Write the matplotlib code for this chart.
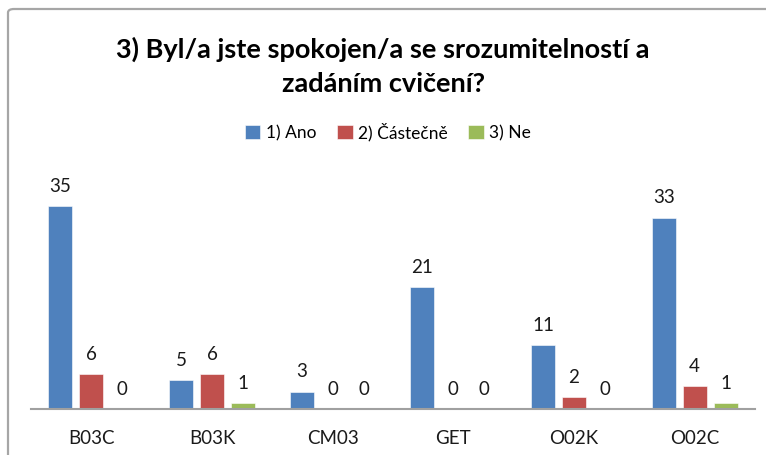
import numpy as np
import matplotlib
matplotlib.use("Agg")
import matplotlib.pyplot as plt
from matplotlib.patches import FancyBboxPatch

categories = ["B03C", "B03K", "CM03", "GET", "O02K", "O02C"]
series_names = ["1) Ano", "2) Částečně", "3) Ne"]
ano = [35, 5, 3, 21, 11, 33]
castecne = [6, 6, 0, 0, 2, 4]
ne = [0, 1, 0, 0, 0, 1]
title = "3) Byl/a jste spokojen/a se srozumitelností a\nzadáním cvičení?"

COLORS = ["#4F81BD", "#C0504D", "#9BBB59"]

matplotlib.rcParams["font.family"] = ["Lato", "DejaVu Sans"]

W, H = 766, 455
fig = plt.figure(figsize=(W / 100, H / 100), dpi=100)

# grey chart frame, cut off at the right and bottom like the screenshot
frame = FancyBboxPatch((8 / W, -0.1), 1.2, 1 - 9 / H + 0.1,
                       boxstyle="round,pad=0,rounding_size=0.008",
                       transform=fig.transFigure, facecolor="none",
                       edgecolor="#A6A6A6", linewidth=1.6, zorder=-1)
fig.patches.append(frame)

ax = fig.add_axes([31 / W, (H - 409) / H, (755 - 31) / W, 232 / H])
ax.set_facecolor("none")

idx = np.arange(len(categories))
step = 0.257
width = 0.2
for k, (vals, name) in enumerate(zip([ano, castecne, ne], series_names)):
    xs = idx + (k - 1) * step
    ax.bar(xs, vals, width=width, color=COLORS[k], label=name,
           edgecolor="white", linewidth=0.4)
    for x, v in zip(xs, vals):
        ax.annotate(str(v), (x, v), xytext=(0, 8), textcoords="offset points",
                    ha="center", va="bottom", fontsize=13.5, color="#1a1a1a")

ax.set_xlim(-0.5, len(categories) - 0.5)
ax.set_ylim(0, 40)
ax.set_xticks(idx)
ax.set_xticklabels(categories, fontsize=13.5, color="#1a1a1a")
ax.tick_params(axis="x", length=0, pad=15)
ax.set_yticks([])
for s in ["left", "right", "top"]:
    ax.spines[s].set_visible(False)
ax.spines["bottom"].set_color("#A0A0A0")
ax.spines["bottom"].set_linewidth(1.5)

fig.text(0.5, 1 - 66 / H, title, ha="center", va="center", fontsize=19.5,
         fontweight="bold", linespacing=1.5, color="black")

fig.legend(loc="center", bbox_to_anchor=(388 / W, 1 - 132 / H), ncol=3,
           frameon=False, fontsize=12.5, handlelength=0.9, handleheight=0.9,
           handletextpad=0.3, columnspacing=1.2)

fig.savefig("out.png", dpi=100)
